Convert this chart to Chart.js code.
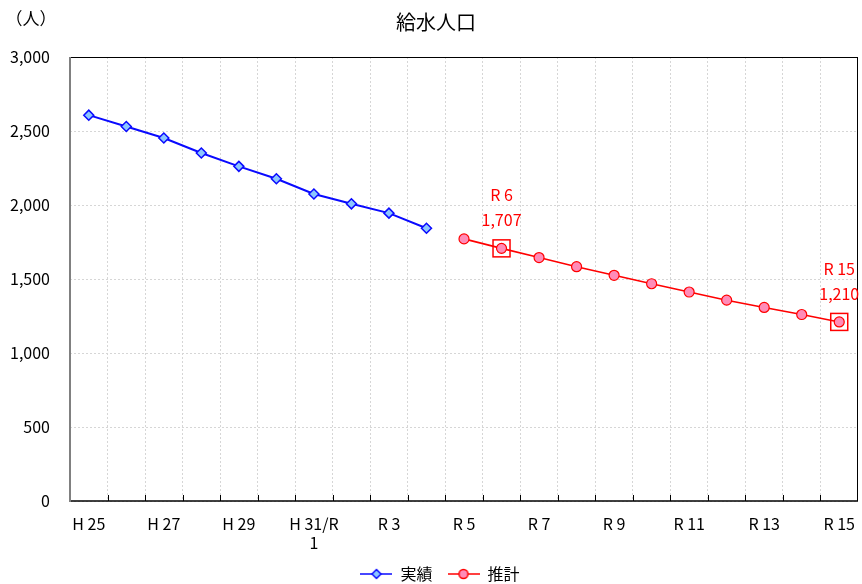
<!DOCTYPE html>
<html lang="ja">
<head>
<meta charset="UTF-8">
<title>給水人口</title>
<script src="https://cdn.jsdelivr.net/npm/chart.js"></script>
<style>
  * { margin: 0; padding: 0; }
  body { width: 862px; height: 584px; background: #fff; overflow: hidden; }
</style>
</head>
<body>
<canvas id="chart" width="862" height="584"></canvas>
<script>
  // 年度ラベル
  const years = ['H 25', 'H 26', 'H 27', 'H 28', 'H 29', 'H 30', ['H 31/R', '1'], 'R 2', 'R 3', 'R 4',
    'R 5', 'R 6', 'R 7', 'R 8', 'R 9', 'R 10', 'R 11', 'R 12', 'R 13', 'R 14', 'R 15'];
  // 実績
  const actual = [2607, 2530, 2453, 2351, 2261, 2177, 2074, 2008, 1945, 1843,
    null, null, null, null, null, null, null, null, null, null, null];
  // 推計
  const forecast = [null, null, null, null, null, null, null, null, null, null,
    1771, 1707, 1645, 1583, 1525, 1468, 1412, 1357, 1308, 1260, 1210];
  const yTicks = [0, 500, 1000, 1500, 2000, 2500, 3000];
  const marked = [11, 20]; // 枠で囲む点 (R 6, R 15)

  const FONT = "'Noto Sans CJK JP', 'Noto Sans', sans-serif";
  Chart.defaults.font.family = FONT;
  Chart.defaults.color = '#000';

  const BLUE = '#0a0aff', BLUE_FILL = '#8cc6ff';
  const RED = '#ff0000', RED_FILL = '#ff8cb8';
  const PLOT_RIGHT = 858;

  // 凡例用のマーク（線＋点）
  function legendMark(kind) {
    const c = document.createElement('canvas');
    c.width = 32; c.height = 14;
    const g = c.getContext('2d');
    g.lineWidth = 1.5;
    g.strokeStyle = kind === 'd' ? BLUE : RED;
    g.beginPath(); g.moveTo(0, 7); g.lineTo(32, 7); g.stroke();
    g.beginPath();
    if (kind === 'd') {
      g.moveTo(16, 2.5); g.lineTo(20.5, 7); g.lineTo(16, 11.5); g.lineTo(11.5, 7); g.closePath();
      g.fillStyle = BLUE_FILL;
    } else {
      g.arc(16, 7, 4.5, 0, Math.PI * 2);
      g.fillStyle = RED_FILL;
    }
    g.fill(); g.stroke();
    return c;
  }
  const marks = [legendMark('d'), legendMark('c')];

  const fmt = v => v.toLocaleString('en-US');

  const framePlugin = {
    id: 'frame',
    afterLayout(chart) {
      // 描画領域の右端を合わせる
      const x = chart.scales.x;
      const d = PLOT_RIGHT - chart.chartArea.right;
      if (d > 0) {
        chart.chartArea.right += d;
        chart.chartArea.width += d;
        x.right += d;
        x.width += d;
        x.configure();
      }
      // 凡例とタイトルを少し右へ
      chart.legend.left += 9; chart.legend.right += 9;
      chart.titleBlock.left += 5; chart.titleBlock.right += 5;
    },
    afterDatasetsDraw(chart) {
      const { ctx, chartArea: a, scales: { x } } = chart;
      ctx.save();
      // 内向きの目盛り
      ctx.strokeStyle = '#000';
      ctx.lineWidth = 1;
      for (let i = 1; i < years.length; i++) {
        const px = Math.round((x.getPixelForValue(i - 1) + x.getPixelForValue(i)) / 2) + 0.5;
        ctx.beginPath(); ctx.moveTo(px, a.bottom - 6); ctx.lineTo(px, a.bottom); ctx.stroke();
      }
      ctx.beginPath();
      ctx.moveTo(a.left, a.top + 0.5); ctx.lineTo(a.right, a.top + 0.5);
      ctx.moveTo(a.right - 0.5, a.top); ctx.lineTo(a.right - 0.5, a.bottom);
      ctx.stroke();
      ctx.lineWidth = 1.5;
      ctx.beginPath(); ctx.moveTo(a.left, a.bottom); ctx.lineTo(a.right, a.bottom); ctx.stroke();
      ctx.strokeStyle = '#808080';
      ctx.lineWidth = 2;
      ctx.beginPath(); ctx.moveTo(a.left, a.top); ctx.lineTo(a.left, a.bottom + 1); ctx.stroke();

      // 注記
      const meta = chart.getDatasetMeta(1);
      ctx.strokeStyle = RED;
      ctx.fillStyle = RED;
      ctx.lineWidth = 1.5;
      ctx.font = '16px ' + FONT;
      ctx.textAlign = 'center';
      ctx.textBaseline = 'middle';
      marked.forEach(i => {
        const p = meta.data[i];
        ctx.strokeRect(p.x - 8.5, p.y - 8.5, 17, 17);
        ctx.fillText(years[i], p.x, p.y - 53);
        ctx.fillText(fmt(forecast[i]), p.x, p.y - 28);
      });

      // 単位
      ctx.fillStyle = '#000';
      ctx.font = '17px ' + FONT;
      ctx.fillText('（人）', 31, 19);
      ctx.restore();
    }
  };

  new Chart(document.getElementById('chart'), {
    type: 'line',
    data: {
      labels: years,
      datasets: [{
        label: '実績',
        data: actual,
        borderColor: BLUE,
        backgroundColor: BLUE_FILL,
        borderWidth: 2,
        pointStyle: 'rectRot',
        pointRadius: 5,
        pointBorderWidth: 1.5,
        pointBorderColor: BLUE,
        pointBackgroundColor: BLUE_FILL,
        spanGaps: false
      }, {
        label: '推計',
        data: forecast,
        borderColor: RED,
        backgroundColor: RED_FILL,
        borderWidth: 1.6,
        pointStyle: 'circle',
        pointRadius: 5,
        pointBorderWidth: 1.2,
        pointBorderColor: RED,
        pointBackgroundColor: RED_FILL,
        spanGaps: false
      }]
    },
    options: {
      responsive: false,
      animation: false,
      layout: { padding: { left: 0, right: 0, bottom: -8 } },
      plugins: {
        title: {
          display: true,
          text: '給水人口',
          color: '#000',
          font: { size: 20, weight: 'normal' },
          padding: { top: 10, bottom: 23 }
        },
        legend: {
          position: 'bottom',
          labels: {
            usePointStyle: true,
            pointStyleWidth: 32,
            boxHeight: 14,
            padding: 15,
            font: { size: 16 },
            color: '#000',
            generateLabels: chart => chart.data.datasets.map((ds, i) => ({
              text: ds.label,
              pointStyle: marks[i],
              fillStyle: ds.backgroundColor,
              strokeStyle: ds.borderColor,
              lineWidth: 0,
              hidden: false,
              datasetIndex: i
            }))
          }
        },
        tooltip: { enabled: false }
      },
      scales: {
        x: {
          offset: true,
          grid: { offset: true, color: '#d6d6d6', lineWidth: 1, drawTicks: false },
          border: { display: false, dash: [2, 2] },
          ticks: {
            autoSkip: false,
            maxRotation: 0,
            padding: 13,
            font: { size: 16 },
            color: '#000',
            callback: (v, i) => (i % 2 === 0 ? years[i] : '')
          },
          afterFit: s => { s.height = 50; s.paddingLeft = 0; s.paddingRight = 0; }
        },
        y: {
          min: 0,
          max: 3000,
          afterBuildTicks: s => { s.ticks = yTicks.map(v => ({ value: v })); },
          grid: { color: '#d6d6d6', lineWidth: 1, drawTicks: false },
          border: { display: false, dash: [2, 2] },
          ticks: {
            padding: 20,
            font: { size: 16 },
            color: '#000',
            callback: v => fmt(v)
          },
          afterFit: s => { s.width = 70; }
        }
      }
    },
    plugins: [framePlugin]
  });
</script>
</body>
</html>
